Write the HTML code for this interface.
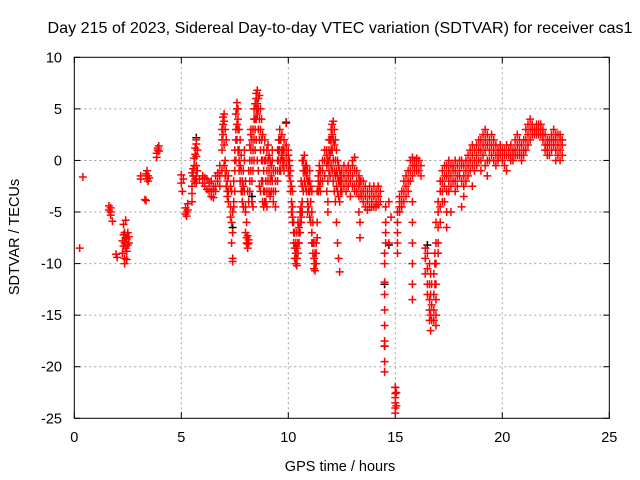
<!DOCTYPE html>
<html><head><meta charset="utf-8"><style>
html,body{margin:0;padding:0;background:#fff;}
svg{display:block;font-family:"Liberation Sans",sans-serif;}
</style></head><body>
<svg id="chart" width="640" height="480" viewBox="0 0 640 480">
<text x="340" y="33" text-anchor="middle" font-size="16" textLength="585" lengthAdjust="spacingAndGlyphs">Day 215 of 2023, Sidereal Day-to-day VTEC variation (SDTVAR) for receiver cas1</text>
<text transform="translate(19,237) rotate(-90)" text-anchor="middle" font-size="14.5">SDTVAR / TECUs</text>
<text x="340" y="471" text-anchor="middle" font-size="14.5">GPS time / hours</text>
<g id="grid"></g>
<g id="ticks"></g>
<g id="marks"></g>
<rect x="74.3" y="57.3" width="535" height="361" fill="none" stroke="#000" stroke-width="1"/>
</svg>
<script>
const xTicks = [0,5,10,15,20,25];
const yTicks = [10,5,0,-5,-10,-15,-20,-25];
const samples = [
[0.25,[-8.5]],[0.4,[-1.6]],
[1.62,[-4.4,-4.8]],[1.7,[-5,-5.3,-4.6]],[1.78,[-5.9]],[1.95,[-9.1]],[2.0,[-9.4]],
[2.25,[-7.8,-9]],[2.3,[-6.2,-7.2,-8.3]],[2.35,[-7,-8,-9.5,-10]],[2.4,[-5.8,-7.5,-8.5]],[2.45,[-7.6,-8.8,-9.6]],[2.5,[-7,-8.2]],[2.55,[-8,-7.4]],
[3.1,[-1.8,-1.5]],[3.3,[-3.8]],[3.35,[-3.9,-1.3]],[3.4,[-1,-1.8]],[3.45,[-2,-1.5]],[3.5,[-1.7]],
[3.85,[0.3,0.7]],[3.9,[1,1.2]],[3.95,[1.4,0.9]],
[5.0,[-1.4,-2.2]],[5.05,[-3]],[5.1,[-1.8]],[5.2,[-5.2,-4.6]],[5.25,[-5,-5.4]],[5.3,[-4.8,-4.2]],
[5.5,[-1.2,-2.5,-3.2,-4]],[5.55,[-1.5,-0.8]],[5.6,[-0.5,0.2,-2]],[5.65,[0.6,1.2,-1.8]],[5.7,[1.6,2,0.4,-0.5,-1.5,-2.2]],[5.75,[1.0,-1]],[5.85,[-1.8]],
[6.0,[-1.8,-2.2,-1.5]],[6.1,[-1.7,-2.5]],[6.2,[-1.8,-2.8]],[6.3,[-2.2,-3]],[6.4,[-3,-3.5,-2]],[6.5,[-3.6,-2.8,-2.5]],[6.6,[-2.5,-1.5,-3]],[6.7,[-2,-1.2]],[6.8,[-1.5,-0.5,-2.5]],
[6.9,[1,2,3,-1]],[6.95,[3.5,4.2,2.5]],[7.0,[4.5,3.8,1.5,-0.5]],[7.05,[3,0,-1.5]],[7.1,[2,-1,-2.5]],[7.15,[-2,-3,-3.5]],[7.2,[-1.5,-3,-4]],[7.3,[-2.5,-4.5,-5.5]],[7.35,[-3,-6,-8]],[7.4,[-5,-7,-9.5,-9.8]],[7.45,[-2,-4,-4.5]],
[7.5,[-1,0,1,-3]],[7.55,[2,3,4.5,0]],[7.6,[3.5,5,5.6,2]],[7.65,[4,5,3,1]],[7.7,[3,1,0,-1]],[7.75,[2,-0.5,-2]],[7.8,[0.5,-1,-3]],[7.85,[-2,-4,-3]],[7.9,[-1,-2.5,-4.5]],[7.95,[0,-3,1]],
[8.0,[-4.5,-5,-7,-2]],[8.05,[-6,-7.5,-8]],[8.1,[-7.3,-8.1,-8.5,-3]],[8.15,[-8,-7.7,-4,-1]],[8.2,[-2,0,1.5,-3]],[8.25,[1,2.5,3,-1]],[8.3,[0,2,-2,-4]],[8.35,[-1,1,3,-4.5]],
[8.4,[2,4,5,0]],[8.45,[4,5.5,3,1]],[8.5,[5,6,6.5,4,2]],[8.55,[5.5,6.8,4.5,0]],[8.6,[6,5,3,-1]],[8.65,[6.3,4,2,-2.5]],[8.7,[5,3,1,-3]],[8.75,[4,2,0,-2]],[8.8,[2.5,0,-2,-4]],[8.85,[1,-1,-3,-4.5]],[8.9,[2,0,-3,-4]],[8.95,[0,-2,-4]],
[9.0,[-1,1,-3,-4.5]],[9.05,[0,-2,1.5]],[9.1,[-1,-3,0.5]],[9.15,[-2,-3.5,0]],[9.2,[-0.5,-1.5,-3]],[9.25,[0,1,-2]],[9.3,[-1,-3,-4]],[9.4,[-2,-3,-4.5,-1]],[9.5,[-1,0,1,-2]],[9.55,[1,2,0]],[9.6,[2,3,1,-1]],[9.65,[2,0,-1]],[9.7,[1,2.5,0.5]],[9.75,[0,1,-0.5]],[9.8,[1,0,2,-1]],[9.9,[0.5,1.5,3.6,-0.5]],
[10.0,[0,1,-1,0.5]],[10.05,[-0.5,0,-1.5]],[10.1,[-2,-1,-3]],[10.15,[-2.5,-4,-5]],[10.2,[-4.5,-5.5,-6,-3]],[10.25,[-6,-7,-8]],[10.3,[-7,-8.5,-9.5]],[10.35,[-9,-10,-8]],[10.4,[-9.5,-10.2,-8.5,-7]],[10.45,[-9,-8,-6]],[10.5,[-8,-7,-6.5]],[10.55,[-7,-6,-5]],[10.6,[-5.5,-6,-4.5,-2]],[10.65,[-5,-4,-2.5,0]],[10.7,[-3,-1,0]],[10.75,[-1,-2,0.5]],[10.8,[-1,-2.5,-0.5]],[10.85,[-1.5,-3,-0.5]],[10.9,[-1,-2,-4,-5]],[10.95,[-2,-3,-4.5]],
[11.0,[-1,-2,-3,-5.5]],[11.05,[-2.5,-4,-6]],[11.1,[-3,-5,-7,-8]],[11.15,[-6,-8,-9]],[11.2,[-8,-9.5,-10.5]],[11.25,[-9,-10.7,-10]],[11.3,[-8,-9,-10]],[11.35,[-6,-7.5,-3]],[11.4,[-3,-1.5,-2]],[11.45,[-0.5,-1,-2.5]],[11.5,[-2,-3,-1]],[11.6,[-2,-1,0]],[11.7,[0,1,-1.5]],[11.8,[-0.5,0.5,1,-3]],[11.85,[0,-2,-4,-5]],[11.9,[1,2,0,-1]],[11.95,[2,0.5,-1.5]],
[12.0,[3,2,1,-0.5]],[12.05,[3.5,2.5,1,-1]],[12.1,[3.8,2,0,-2]],[12.15,[3,1.5,-1,-3]],[12.2,[2,0,-1.5,-4]],[12.25,[1,-1,-2.5,-6]],[12.3,[0,-1.5,-3,-8]],[12.35,[-0.5,-2,-3.5,-9.5]],[12.4,[-1,-2,-4,-10.8]],[12.45,[-1.5,-2.5,-3]],[12.5,[-1,-2,-3]],[12.6,[-0.5,-1.5,-2.5]],[12.7,[-1,-2,-3]],[12.8,[-0.5,-1.5,-2.5]],[12.9,[-1,-2,-3.5]],
[13.0,[-0.5,-1.5,-2.5,0]],[13.1,[0.3,-1,-2.5,-3]],[13.2,[-1,-2,-3]],[13.3,[-1.5,-2.5,-3.5,-5]],[13.35,[-6,-7.5,-2]],[13.4,[-2,-3,-3.5]],[13.5,[-2,-3,-4]],[13.6,[-2.5,-3.5,-4.5]],[13.7,[-3,-4,-4.8]],[13.8,[-2.5,-3.5,-4.5]],[13.9,[-3,-4,-4.5]],
[14.0,[-2.5,-3.5,-4.5]],[14.1,[-3,-4,-4.5]],[14.2,[-2.5,-3.5,-4.3]],[14.3,[-3,-4]],[14.5,[-9,-10,-11.8,-13,-14.5,-16,-17.5,-18,-19.5,-20.5]],[14.55,[-7,-8,-4.5,-6]],[14.7,[-8,-4]],[14.8,[-5.5]],
[15.0,[-22,-22.6,-23,-23.5,-24,-24.5]],[15.05,[-22.5,-23.8]],[15.1,[-5,-7,-8,-9,-6]],[15.2,[-3.5,-4,-4.5,-5]],[15.3,[-3,-4,-4.5]],[15.4,[-2,-3,-4]],[15.5,[-1.5,-2.5,-3.5]],[15.6,[-1,-2,-3]],[15.7,[0,-1,-2]],[15.8,[0.3,-0.5,-1.5,-4,-6,-8,-10,-12,-13.5]],[15.9,[0,-0.5,-1]],
[16.0,[0.2,-0.5,-1]],[16.1,[0,-1]],[16.2,[-0.5,-1.5]],[16.4,[-8.5,-9.5,-11]],[16.5,[-9,-10.5,-12,-13]],[16.6,[-10,-12,-13.5,-14.5,-15.5]],[16.65,[-11,-13,-15,-16.5]],[16.7,[-12,-14,-15.5]],[16.8,[-11,-13,-14.5,-15.5]],[16.85,[-9,-10,-12]],[16.9,[-6,-8,-10,-12,-13.5,-15,-16]],
[17.0,[-4,-5,-6.5,-8,-9]],[17.1,[-2,-3,-4.5,-6]],[17.2,[-1,-2,-3,-4]],[17.3,[-0.5,-1.5,-2.5,-4]],[17.4,[-0.5,-1.5,-3,-5,-6.5]],[17.5,[0,-1,-2,-3]],[17.6,[-0.5,-1.5,-2.5,-5]],[17.7,[-0.5,-1,-2]],[17.8,[0,-1,-2,-3]],[17.9,[-0.5,-1.5,-2.5]],
[18.0,[0,-1,-1.5]],[18.1,[0,-0.5,-2,-4.5]],[18.2,[-0.5,-1.5,-2.5,-3.5]],[18.3,[0,-1,-2]],[18.4,[0.5,-0.5,-1.5]],[18.5,[1,0,-1]],[18.6,[1.5,0.5,-0.5,-2.5]],[18.7,[1,0,-1]],[18.8,[1.5,0.5,-0.5]],[18.9,[2,1,0]],
[19.0,[2,1,0,-1]],[19.1,[2.5,1.5,0.5]],[19.2,[3,2,1,-0.5]],[19.3,[2.5,1.5,0,-1.5]],[19.4,[2,1,0]],[19.5,[2.5,1.5,0.5]],[19.6,[2,1,0]],[19.7,[1.5,0.5,-0.5]],[19.8,[1,0.5,0]],[19.9,[1.5,1,0.5]],
[20.0,[1,0.5,0]],[20.1,[0.5,1,-0.5]],[20.2,[1.5,0.5,-1]],[20.3,[1,0.5]],[20.4,[1.5,0.5,0]],[20.5,[1,0.5,0]],[20.6,[2,1,0.5]],[20.7,[2.5,1.5,0.5]],[20.8,[2,1,0.5]],[20.9,[1.5,0.5,0]],
[21.0,[2,1,0.5]],[21.1,[3,2,1]],[21.2,[3.5,2.5,1.5]],[21.3,[4,3,2]],[21.4,[3.5,3,2.5]],[21.5,[3,2.5]],[21.6,[3.5,3,2.5]],[21.7,[3.5,3,2.5]],[21.8,[3.5,3,2.5]],[21.9,[3,2.5,2]],
[22.0,[2.5,1.5,1]],[22.1,[2,1.5,1,0.5]],[22.2,[2,1.5,0.5]],[22.3,[2.5,2,1]],[22.4,[3,2,1.5]],[22.5,[2.5,2,1,0]],[22.6,[2.5,1.5,0.5]],[22.7,[2.5,2,1,0]],[22.8,[2,1.5,0.5]]
];
const blackSamples = [[5.7,[2.2]],[8.3,[-3.5]],[9.9,[3.7]],[14.5,[-12,-18]],[14.7,[-8.2]],[15.0,[-22]],[16.5,[-8.2]],[7.4,[-6.5]]];

const X0=74.3, X1=609.3, Y0=418.3, Y1=57.3;
const sx = h => X0 + (h-0)/(25-0)*(X1-X0);
const sy = v => Y0 - (v-(-25))/(10-(-25))*(Y0-Y1);
const NS='http://www.w3.org/2000/svg';
const grid=document.getElementById('grid'), ticks=document.getElementById('ticks'), marks=document.getElementById('marks');
function mk(tag, attrs, parent){const e=document.createElementNS(NS,tag);for(const k in attrs)e.setAttribute(k,attrs[k]);parent.appendChild(e);return e;}

xTicks.forEach(t=>{
  const x=sx(t);
  if(t>0&&t<25){const g=mk('line',{x1:x,y1:Y1,x2:x,y2:Y0,stroke:'#a0a0a0','stroke-dasharray':'2,3'},grid);
    
    }
  const a=mk('line',{x1:x,y1:Y0,x2:x,y2:Y0-6,stroke:'#000'},ticks);
  
  
  const b=mk('line',{x1:x,y1:Y1,x2:x,y2:Y1+6,stroke:'#000'},ticks);
  
  
  const l=mk('text',{x:x,y:442,'text-anchor':'middle','font-size':'14.5'},ticks);
  l.textContent=String(t);
  
  
});
yTicks.forEach(t=>{
  const y=sy(t);
  if(t>-25&&t<10){const g=mk('line',{x1:X0,y1:y,x2:X1,y2:y,stroke:'#a0a0a0','stroke-dasharray':'2,3'},grid);
    
    }
  const a=mk('line',{x1:X0,y1:y,x2:X0+6,y2:y,stroke:'#000'},ticks);
  
  
  const b=mk('line',{x1:X1,y1:y,x2:X1-6,y2:y,stroke:'#000'},ticks);
  
  
  const l=mk('text',{x:62,y:y+5,'text-anchor':'end','font-size':'14.5'},ticks);
  l.textContent=String(t);
  
  
});
function plus(h,v,color,name){
  const x=sx(h), y=sy(v);
  const p=mk('path',{d:`M${x-4},${y}H${x+4}M${x},${y-4}V${y+4}`,stroke:color,'stroke-width':'1.5',fill:'none'},marks);
  
  
}
blackSamples.forEach(s=>s[1].forEach(v=>plus(s[0],v,'#000','point-black')));
samples.forEach(s=>s[1].forEach(v=>plus(s[0],v,'#ff0000','point-red')));
</script>
</body></html>
